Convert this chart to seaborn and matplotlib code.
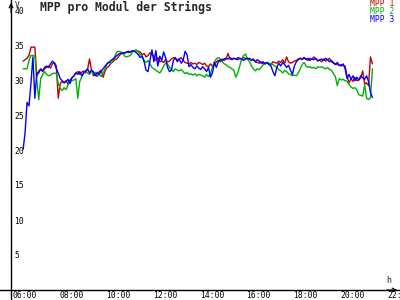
import numpy as np
import pandas as pd
import matplotlib
matplotlib.use("Agg")
import matplotlib.pyplot as plt
from matplotlib.transforms import ScaledTranslation
import seaborn as sns

# ---- data (5-minute samples, 06:20 .. 21:15) ----
start_min = 20
step_min = 5

mpp1 = [
    32.7, 32.9, 33.1, 33.5, 34.7, 34.7, 34.7, 30.5,
    31.3, 31.5, 31.2, 31.6, 31.8, 32.0, 31.7, 32.3, 32.5, 32.0, 27.4, 29.5,
    29.8, 29.6, 29.9, 29.4, 30.0, 30.3, 30.6, 31.0, 31.2, 30.8, 31.1, 31.3,
    31.0, 31.5, 33.0, 31.5, 30.6, 30.8, 30.5, 31.2, 31.4, 30.4, 31.3, 31.8,
    32.0, 32.4, 32.6, 32.9, 33.0, 33.4, 33.7, 33.8, 33.9, 34.0, 33.9, 34.0,
    34.1, 34.2, 34.2, 34.1, 34.0, 33.6, 33.8, 33.3, 33.5, 33.9, 33.6, 33.4,
    32.8, 33.2, 32.6, 32.7, 32.5, 32.9, 32.6, 32.7, 33.0, 33.2, 33.1, 32.9,
    33.0, 33.2, 32.8, 32.5, 32.4, 32.3, 32.5, 32.3, 32.4, 32.2, 32.5, 32.4,
    32.2, 32.4, 32.0, 31.9, 32.3, 32.0, 32.2, 32.6, 32.8, 32.6, 33.0, 32.8,
    33.0, 33.8, 33.0, 32.9, 33.1, 33.0, 33.2, 33.1, 33.0, 33.2, 33.1, 33.0,
    33.1, 32.9, 33.0, 32.6, 32.5, 32.4, 32.6, 32.3, 32.4, 32.5, 32.3, 32.2,
    32.6, 32.5, 32.4, 32.7, 32.5, 32.9, 32.4, 33.3, 32.6, 32.4, 32.5, 32.7,
    32.8, 33.0, 33.1, 32.9, 33.2, 33.0, 32.8, 33.1, 33.0, 33.3, 33.0, 32.8,
    32.8, 32.6, 33.0, 32.7, 32.9, 33.1, 32.6, 32.5, 32.3, 32.2, 32.1, 32.2,
    32.1, 32.0, 30.5, 29.6, 30.2, 29.8, 30.4, 29.9, 30.0, 30.3, 31.3, 29.4,
    29.6, 29.2, 33.3, 32.3,
]

mpp2 = [
    31.6, 31.6, 31.6, 32.8, 33.5, 33.5, 33.4, 30.0,
    27.2, 30.2, 30.8, 31.2, 30.8, 30.6, 30.7, 30.9, 31.0, 30.9, 29.5, 28.8,
    28.5, 28.9, 28.6, 29.3, 29.8, 29.9, 30.0, 30.2, 27.4, 29.8, 30.4, 31.0,
    31.2, 31.0, 30.8, 31.3, 30.9, 31.1, 30.6, 30.8, 30.5, 31.0, 31.6, 32.4,
    32.6, 32.4, 32.8, 33.4, 34.0, 34.1, 34.0, 33.9, 33.4, 33.3, 33.4, 33.5,
    34.0, 34.2, 34.3, 34.0, 33.6, 33.4, 32.8, 32.5, 32.8, 32.3, 31.8, 31.6,
    31.4, 31.2, 31.0, 31.4, 32.0, 32.4, 32.3, 31.8, 31.5, 31.2, 31.6, 31.4,
    31.3, 31.5, 31.2, 30.9, 31.1, 30.8, 30.9, 30.7, 30.9, 30.6, 30.8, 30.7,
    30.6, 30.4, 30.8, 30.5, 30.9, 31.8, 32.6, 33.0, 33.2, 33.0, 32.6, 32.3,
    32.2, 31.9, 31.8, 31.6, 31.4, 30.4, 31.0, 32.0, 33.0, 33.5, 33.7, 33.0,
    32.6, 32.0, 31.6, 31.3, 31.6, 31.5, 31.8, 32.2, 32.3, 32.5, 32.4, 32.3,
    32.2, 32.0, 31.8, 31.5, 31.3, 31.0, 31.4, 31.2, 30.9, 30.8, 30.6, 30.7,
    30.6, 31.0, 31.6, 32.2, 32.5, 32.0, 31.8, 31.9, 31.7, 31.8, 31.6, 31.9,
    31.8, 31.9, 31.7, 31.6, 31.8, 31.5, 31.4, 30.9, 30.5, 29.2, 30.2, 30.0,
    30.1, 29.9, 29.8, 29.4, 29.0, 28.8, 28.9, 28.6, 27.9, 27.8, 27.7, 29.3,
    27.4, 27.2, 27.5, 31.6,
]

mpp3 = [
    20.1, 22.5, 26.8, 26.3, 29.5, 33.3, 27.4, 31.0,
    31.0, 31.6, 31.3, 31.8, 32.0, 31.8, 32.3, 32.7, 32.4, 31.6, 31.0, 30.2,
    29.9, 29.6, 29.8, 30.1, 29.5, 30.3, 30.6, 31.0, 30.8, 31.2, 30.6, 31.0,
    31.3, 31.6, 31.0, 31.4, 31.2, 30.6, 31.1, 30.8, 31.3, 31.6, 32.0, 32.3,
    32.5, 32.8, 33.0, 33.2, 33.5, 33.7, 33.8, 33.9, 33.8, 34.0, 34.1, 34.0,
    34.2, 34.1, 33.9, 33.6, 33.2, 33.4, 32.6, 31.4, 31.2, 32.8, 34.3, 32.6,
    34.2, 32.0, 33.4, 32.8, 34.0, 33.2, 31.8, 31.2, 31.4, 32.8, 33.2, 32.6,
    33.0, 32.4, 32.8, 34.1, 33.6, 31.9, 32.2, 31.8, 31.6, 32.0, 31.7, 31.5,
    31.9, 31.6, 31.2, 31.8, 30.4, 31.0, 32.5, 31.8, 32.6, 32.9, 32.8, 33.0,
    33.1, 33.0, 33.2, 33.0, 33.1, 33.0, 32.9, 33.1, 33.0, 32.8, 33.0, 33.1,
    33.0, 32.8, 32.9, 32.6, 32.9, 32.7, 32.4, 32.6, 32.3, 32.5, 32.2, 32.0,
    31.2, 30.6, 31.8, 32.4, 32.0, 32.5, 32.2, 31.8, 32.1, 31.4, 30.8, 32.0,
    32.6, 32.9, 33.1, 33.0, 33.2, 32.9, 33.1, 32.8, 33.0, 32.9, 33.1, 32.7,
    32.9, 33.0, 32.8, 33.1, 32.9, 32.6, 32.8, 32.4, 32.2, 32.5, 32.1, 32.0,
    32.3, 31.6, 30.2, 30.8, 30.1, 30.6, 29.9, 30.4, 30.0, 30.6, 30.3, 30.1,
    30.6, 29.8, 28.2, 27.5,
]

series_names = ["MPP 1", "MPP 2", "MPP 3"]
series_colors = ["#c00000", "#00b000", "#0000ff"]
title = "MPP pro Modul der Strings"
y_ticks = [5, 10, 15, 20, 25, 30, 35, 40]
x_ticks_h = [6, 8, 10, 12, 14, 16, 18, 20, 22]
x_tick_labels = ["06:00", "08:00", "10:00", "12:00", "14:00",
                 "16:00", "18:00", "20:00", "22:00"]

n = len(mpp1)
hours = 6 + (start_min + step_min * np.arange(n)) / 60.0
df = pd.concat([
    pd.DataFrame({"t": hours, "v": vals, "s": name})
    for name, vals in zip(series_names, [mpp1, mpp2, mpp3])
], ignore_index=True)

sns.set_style("white")
mono = "DejaVu Sans Mono"
plt.rcParams["font.family"] = [mono]

fig = plt.figure(figsize=(4, 3), dpi=100, facecolor="white")
ax = fig.add_axes([0, 0, 1, 1])
ax.set_facecolor("white")

sns.lineplot(data=df, x="t", y="v", hue="s", palette=series_colors,
             hue_order=series_names, legend=False, ax=ax, linewidth=1.0,
             estimator=None, sort=False)

# pixel mapping: x px = 15.33 + (h-6)*23.42 ; y px(from top) = 290 - 7*v
px_per_h = (390 - 15.33) / 16
x_min = 6 - 15.33 / px_per_h
x_max = 6 + (400 - 15.33) / px_per_h
ax.set_xlim(x_min, x_max)
ax.set_ylim(-10 / 7, 290 / 7)
y_axis_x = x_min + 11 / px_per_h

for side in ["top", "right"]:
    ax.spines[side].set_visible(False)
ax.spines["left"].set_position(("data", y_axis_x))
ax.spines["bottom"].set_position(("data", 0))
for side in ["left", "bottom"]:
    ax.spines[side].set_color("black")
    ax.spines[side].set_linewidth(1.0)

ax.set_xlabel("")
ax.set_ylabel("")
ax.set_yticks(y_ticks)
ax.set_yticklabels([str(v) for v in y_ticks])
ax.set_xticks(x_ticks_h)
ax.set_xticklabels(x_tick_labels)
ax.tick_params(axis="both", direction="inout", length=5, width=1.0,
               colors="black", labelsize=5.8)
ax.tick_params(axis="y", pad=-5)
ax.tick_params(axis="x", pad=-2)
for lab in ax.get_yticklabels():
    lab.set_horizontalalignment("left")
    lab.set_fontfamily(mono)
for lab in ax.get_xticklabels():
    lab.set_horizontalalignment("left")
    lab.set_fontfamily(mono)
    lab.set_transform(lab.get_transform() +
                      ScaledTranslation(-3 / 100, 0, fig.dpi_scale_trans))

# axis arrows
ax.annotate("", xy=(y_axis_x, 1.0), xycoords=("data", "axes fraction"),
            xytext=(y_axis_x, 0.95), textcoords=("data", "axes fraction"),
            arrowprops=dict(arrowstyle="->", color="black", lw=0.8,
                            mutation_scale=7))
ax.annotate("", xy=(1.0, 0), xycoords=("axes fraction", "data"),
            xytext=(0.96, 0), textcoords=("axes fraction", "data"),
            arrowprops=dict(arrowstyle="->", color="black", lw=0.8,
                            mutation_scale=7))
fig.text(15 / 400, 1 - 1 / 300, "V", fontsize=5.6, family=mono,
         ha="left", va="top")
fig.text(386 / 400, 1 - 285 / 300, "h", fontsize=6, family=mono,
         ha="left", va="bottom")

fig.text(40 / 400, 1 - 1 / 300, title, fontsize=8.3, family=mono,
         fontweight="bold", ha="left", va="top")

for i, (name, col) in enumerate(zip(series_names, series_colors)):
    fig.text(394 / 400, 1 - (4 + 8 * i) / 300, name, fontsize=5.8,
             family=mono, color=col, ha="right", va="center")

fig.savefig("out.png", dpi=100, facecolor="white")
